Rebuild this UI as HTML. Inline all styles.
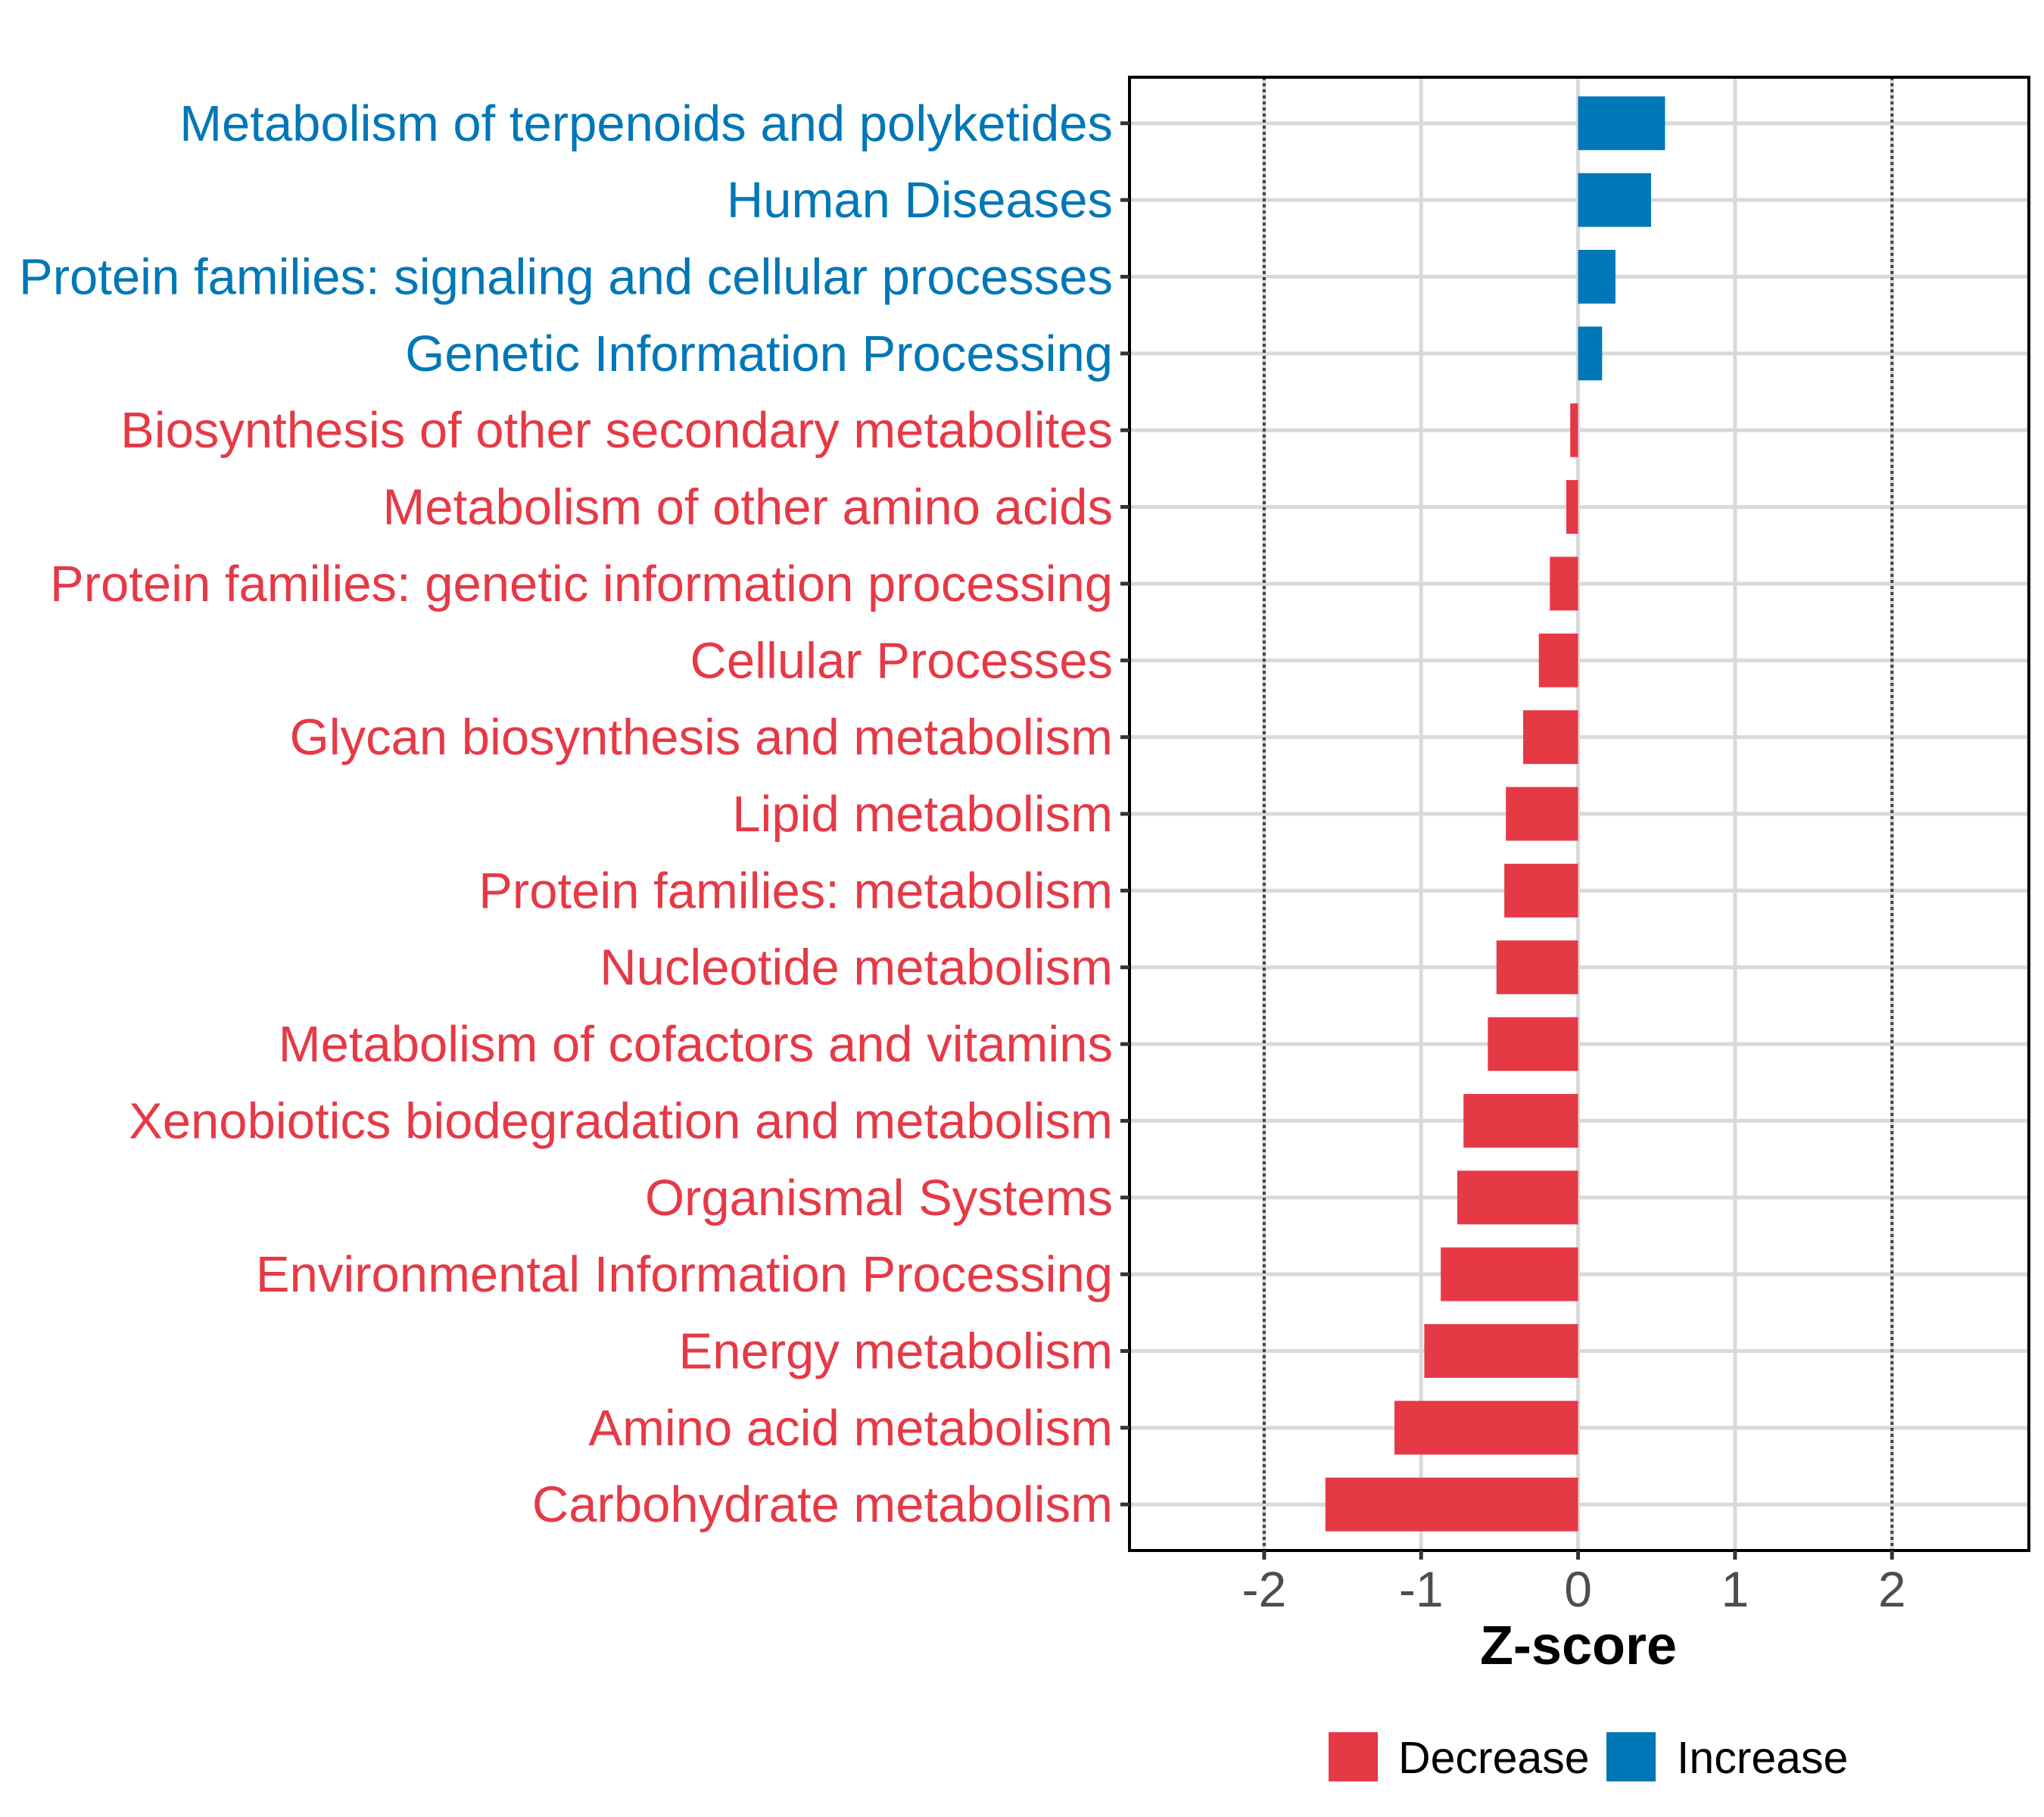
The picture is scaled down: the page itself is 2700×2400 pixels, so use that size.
<!DOCTYPE html>
<html><head><meta charset="utf-8"><style>body{margin:0;background:#fff}svg{display:block}text{font-family:"Liberation Sans",Arial,sans-serif}</style></head>
<body>
<svg id="chart" width="2700" height="2400" viewBox="0 0 2700 2400" xmlns="http://www.w3.org/2000/svg"></svg>
<script>
const categories = ["Metabolism of terpenoids and polyketides","Human Diseases","Protein families: signaling and cellular processes","Genetic Information Processing","Biosynthesis of other secondary metabolites","Metabolism of other amino acids","Protein families: genetic information processing","Cellular Processes","Glycan biosynthesis and metabolism","Lipid metabolism","Protein families: metabolism","Nucleotide metabolism","Metabolism of cofactors and vitamins","Xenobiotics biodegradation and metabolism","Organismal Systems","Environmental Information Processing","Energy metabolism","Amino acid metabolism","Carbohydrate metabolism"];
const zscores = [0.554,0.465,0.238,0.153,-0.05,-0.075,-0.18,-0.25,-0.35,-0.46,-0.47,-0.52,-0.575,-0.73,-0.77,-0.875,-0.98,-1.17,-1.61];
const xTicks = [-2,-1,0,1,2];
const xTickLabels = ["-2","-1","0","1","2"];
const refLines = [-2,2];
const legendLabels = ["Decrease","Increase"];

const RED="#E63946", BLUE="#0077B6";
const L=1492,R=2680,T=102,B=2048;
const xmin=-2.858,xmax=2.872;
const x=v=>L+(v-xmin)/(xmax-xmin)*(R-L);
const step=(B-T)/(categories.length-1+1.2);
const y=i=>T+(0.6+i)*step;
const svg=document.getElementById('chart');
const NS="http://www.w3.org/2000/svg";
function mk(tag,attrs,parent){const e=document.createElementNS(NS,tag);for(const k in attrs)e.setAttribute(k,attrs[k]);(parent||svg).appendChild(e);return e;}

xTicks.forEach((t,i)=>{const l=mk('line',{x1:x(t),x2:x(t),y1:T,y2:B,stroke:'#d9d9d9','stroke-width':5});

});
categories.forEach((c,i)=>{const l=mk('line',{x1:L,x2:R,y1:y(i),y2:y(i),stroke:'#d9d9d9','stroke-width':5});

});
categories.forEach((c,i)=>{const v=zscores[i];const x0=x(0),x1=x(v);
const r=mk('rect',{x:Math.min(x0,x1),y:y(i)-step*0.35,width:Math.abs(x1-x0),height:step*0.7,fill:v<0?RED:BLUE});

});
refLines.forEach(v=>{const l=mk('line',{x1:x(v),x2:x(v),y1:T,y2:B,stroke:'#444','stroke-width':4,'stroke-dasharray':'4 4'});

});
const bd=mk('rect',{x:L,y:T,width:R-L,height:B-T,fill:'none',stroke:'#000','stroke-width':4});


categories.forEach((c,i)=>{const tk=mk('line',{x1:L-12,x2:L,y1:y(i),y2:y(i),stroke:'#333','stroke-width':5});


const t=mk('text',{x:1470,y:y(i)+23,'text-anchor':'end','font-size':67,fill:zscores[i]<0?RED:BLUE});
t.textContent=c;

});
xTicks.forEach((tv,i)=>{const tk=mk('line',{x1:x(tv),x2:x(tv),y1:B,y2:B+12,stroke:'#333','stroke-width':5});


const t=mk('text',{x:x(tv),y:2122,'text-anchor':'middle','font-size':66,fill:'#4d4d4d'});
t.textContent=xTickLabels[i];

});
const xt=mk('text',{x:2085,y:2198,'text-anchor':'middle','font-size':72,'font-weight':'bold',fill:'#000'});
xt.textContent='Z-score';


const lg=[{x:1755,tx:1847,c:RED},{x:2122,tx:2215,c:BLUE}];
legendLabels.forEach((lab,i)=>{const r=mk('rect',{x:lg[i].x,y:2288,width:65,height:65,fill:lg[i].c});


const t=mk('text',{x:lg[i].tx,y:2342,'font-size':59,fill:'#000'});
t.textContent=lab;

});
</script>
</body></html>
